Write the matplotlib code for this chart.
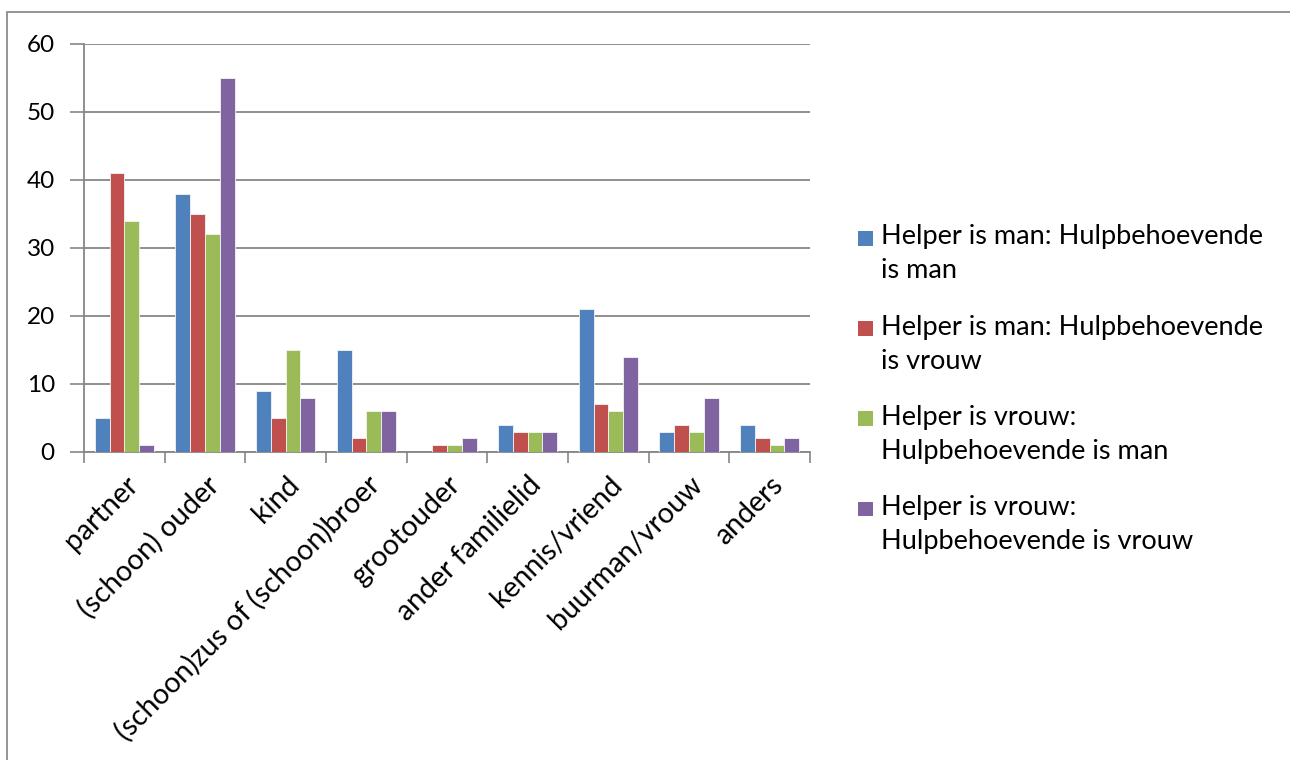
import numpy as np
import matplotlib
matplotlib.use("Agg")
import matplotlib.pyplot as plt
from matplotlib.patches import Rectangle
from matplotlib.container import BarContainer
from matplotlib.legend_handler import HandlerPatch

plt.rcParams["font.family"] = ["Lato", "DejaVu Sans"]

# categorieën en reeksen
categories = ["partner", "(schoon) ouder", "kind", "(schoon)zus of (schoon)broer",
              "grootouder", "ander familielid", "kennis/vriend", "buurman/vrouw", "anders"]
man_man = [5, 38, 9, 15, 0, 4, 21, 3, 4]
man_vrouw = [41, 35, 5, 2, 1, 3, 7, 4, 2]
vrouw_man = [34, 32, 15, 6, 1, 3, 6, 3, 1]
vrouw_vrouw = [1, 55, 8, 6, 2, 3, 14, 8, 2]
series_labels = ["Helper is man: Hulpbehoevende\nis man",
                 "Helper is man: Hulpbehoevende\nis vrouw",
                 "Helper is vrouw:\nHulpbehoevende is man",
                 "Helper is vrouw:\nHulpbehoevende is vrouw"]
colors = ["#4F81BD", "#C0504D", "#9BBB59", "#8064A2"]
y_ticks = [0, 10, 20, 30, 40, 50, 60]


def top_square(legend, orig_handle, xdescent, ydescent, width, height, fontsize):
    # vierkantje op hoogte van de eerste tekstregel
    s = width
    return Rectangle((-xdescent, -ydescent + height - s + 0.12 * fontsize), s, s)


def first_bar(legend_handle, orig_handle):
    legend_handle.update_from(orig_handle.patches[0])
    legend_handle.set_edgecolor("none")


w_pix, h_pix = 1290, 760
dpi = 100
fig = plt.figure(figsize=(w_pix / dpi, h_pix / dpi), dpi=dpi)

# rand om de grafiek (rechts en onder afgesneden)
fig.patches.append(Rectangle((7 / w_pix, -0.1), 1.2, 1 - 12 / h_pix + 0.1,
                             transform=fig.transFigure, fill=False,
                             edgecolor="#8c8c8c", linewidth=1.3))

ax_left, ax_right, ax_top, ax_bottom = 84, 810, 44, 452
ax = fig.add_axes([ax_left / w_pix, 1 - ax_bottom / h_pix,
                   (ax_right - ax_left) / w_pix, (ax_bottom - ax_top) / h_pix])

x = np.arange(len(categories))
bar_w = 0.183
all_series = [man_man, man_vrouw, vrouw_man, vrouw_vrouw]
for i, (vals, col, lab) in enumerate(zip(all_series, colors, series_labels)):
    ax.bar(x + (i - 1.5) * bar_w, vals, width=bar_w, color=col, label=lab,
           edgecolor="#f4f4f4", linewidth=0.6, zorder=3)

ax.set_xlim(-0.5, len(categories) - 0.5)
ax.set_ylim(0, 60)
ax.set_yticks(y_ticks)
ax.yaxis.grid(True, color="#868686", linewidth=1.3, zorder=0)
ax.tick_params(axis="y", length=10, width=1.2, color="#868686", labelsize=17.5, pad=11)

# streepjes tussen de categorieën, labels in het midden
ax.set_xticks(np.arange(len(categories) + 1) - 0.5)
ax.set_xticklabels([])
ax.set_xticks(x, minor=True)
ax.set_xticklabels(categories, minor=True, rotation=45, ha="right",
                   rotation_mode="anchor", fontsize=20.5)
ax.tick_params(axis="x", which="major", length=8, width=1.2, color="#868686")
ax.tick_params(axis="x", which="minor", length=0, pad=14)

for side in ["top", "right"]:
    ax.spines[side].set_visible(False)
for side in ["left", "bottom"]:
    ax.spines[side].set_color("#868686")
    ax.spines[side].set_linewidth(1.3)

handles, labels = ax.get_legend_handles_labels()
leg = fig.legend(handles, labels, loc="upper left",
                 bbox_to_anchor=(834 / w_pix, 1 - 200 / h_pix),
                 frameon=False, fontsize=19.5, handlelength=0.55, handleheight=2.0,
                 handletextpad=0.3, labelspacing=1.15,
                 handler_map={BarContainer: HandlerPatch(patch_func=top_square,
                                                         update_func=first_bar)})
for t in leg.get_texts():
    t.set_linespacing(1.45)

fig.savefig("out.png", dpi=dpi)
